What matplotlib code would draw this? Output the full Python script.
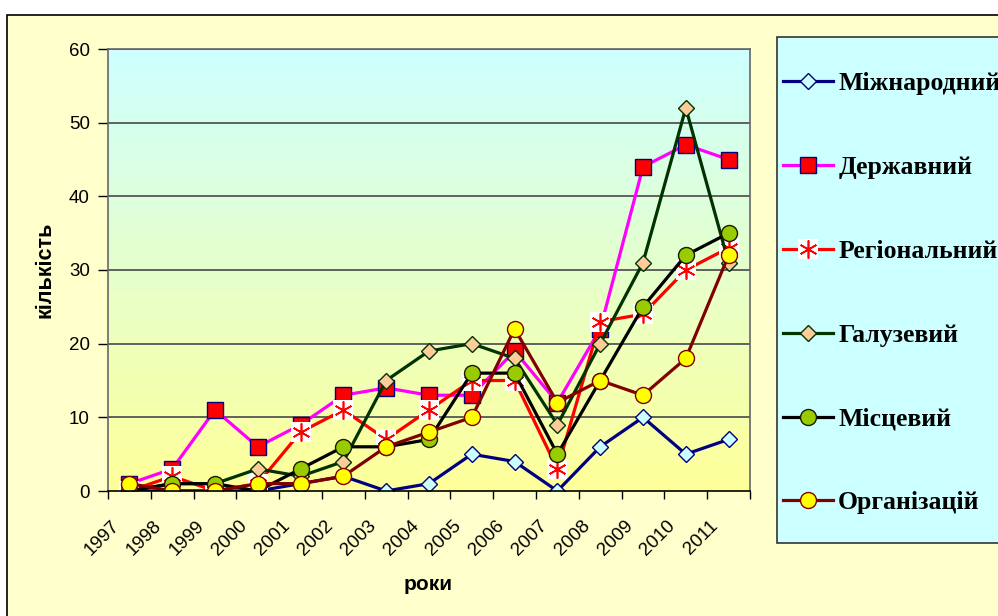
import numpy as np
import matplotlib.pyplot as plt
from matplotlib.patches import Rectangle
from matplotlib.colors import LinearSegmentedColormap
from matplotlib.legend_handler import HandlerTuple
from matplotlib.transforms import ScaledTranslation

years = ['1997', '1998', '1999', '2000', '2001', '2002', '2003', '2004',
         '2005', '2006', '2007', '2008', '2009', '2010', '2011']

mizhnarodnyi = [0, 0, 0, 0, 1, 2, 0, 1, 5, 4, 0, 6, 10, 5, 7]
derzhavnyi = [1, 3, 11, 6, 9, 13, 14, 13, 13, 19, 12, 22, 44, 47, 45]
regionalnyi = [0, 2, 0, 1, 8, 11, 7, 11, 15, 15, 3, 23, 24, 30, 33]
galuzevyi = [0, 1, 1, 3, 2, 4, 15, 19, 20, 18, 9, 20, 31, 52, 31]
mistsevyi = [0, 1, 1, 0, 3, 6, 6, 7, 16, 16, 5, 15, 25, 32, 35]
organizatsii = [1, 0, 0, 1, 1, 2, 6, 8, 10, 22, 12, 15, 13, 18, 32]

labels = ['Міжнародний', 'Державний', 'Регіональний', 'Галузевий', 'Місцевий', 'Організацій']

plt.rcParams['font.family'] = ['Liberation Sans', 'DejaVu Sans']

fig = plt.figure(figsize=(9.98, 6.16), dpi=100, facecolor='white')
# рамка діаграми
fig.patches.append(Rectangle((7 / 998, -0.1), 1.2, (616 - 15) / 616 + 0.1,
                             transform=fig.transFigure, facecolor='#FFFFCC',
                             edgecolor='black', linewidth=1.2, zorder=-10))
# рамка легенди
fig.patches.append(Rectangle((777 / 998, 1 - 543 / 616), 0.5, (543 - 37) / 616,
                             transform=fig.transFigure, facecolor='#CCFFFF',
                             edgecolor='#333333', linewidth=1.2, zorder=-5))

ax = fig.add_axes([108 / 998, 1 - 491 / 616, (750 - 108) / 998, (491 - 49) / 616])
ax.set_xlim(-0.5, 14.5)
ax.set_ylim(0, 60)

# градієнтний фон
cmap = LinearSegmentedColormap.from_list('bg', ['#FFFF99', '#CCFFFF'])
grad = np.linspace(0, 1, 256).reshape(-1, 1)
ax.imshow(grad, cmap=cmap, aspect='auto', extent=[-0.5, 14.5, 0, 60],
          origin='lower', zorder=0)

for y in range(10, 61, 10):
    ax.axhline(y, color='#555555', lw=1.3, zorder=1)

x = np.arange(len(years))
lw = 2.3

l1, = ax.plot(x, mizhnarodnyi, color='#000080', lw=lw, marker='D', ms=8.2,
              mfc='#CCFFFF', mec='#000080', mew=1, zorder=3)
l2, = ax.plot(x, derzhavnyi, color='#FF00FF', lw=lw, marker='s', ms=11,
              mfc='#FF0000', mec='#000080', mew=1, zorder=3)
l3a, = ax.plot(x, regionalnyi, color='#FF0000', lw=lw, marker='s', ms=14,
               mfc='white', mec='white', mew=0, zorder=3)
l3b, = ax.plot(x, regionalnyi, color='#FF0000', lw=0, marker=(6, 2, 0), ms=13,
               mec='#FF0000', mew=1.2, zorder=3)
l4, = ax.plot(x, galuzevyi, color='#003300', lw=lw, marker='D', ms=8.2,
              mfc='#FFCC99', mec='#003300', mew=1, zorder=3)
l5, = ax.plot(x, mistsevyi, color='black', lw=lw, marker='o', ms=11.5,
              mfc='#99CC00', mec='#1A1A00', mew=1, zorder=3)
l6, = ax.plot(x, organizatsii, color='#800000', lw=lw, marker='o', ms=11.5,
              mfc='#FFFF00', mec='#800000', mew=1, zorder=3)

ax.set_yticks(range(0, 61, 10))
ax.set_xticks(x)
ax.set_xticklabels(years, rotation=45, ha='right', va='top', rotation_mode='anchor')
ax.set_xticks(np.arange(-0.5, 14.6, 1), minor=True)
ax.tick_params(axis='x', which='major', length=0, pad=8, labelsize=13.5)
ax.tick_params(axis='x', which='minor', length=6, width=1, direction='out', color='black')
ax.tick_params(axis='y', length=7, width=1, direction='out', labelsize=13.5, pad=6)

# зсув підписів років вліво-вниз
shift = ScaledTranslation(-19 / 100, -15 / 100, fig.dpi_scale_trans)
for lab in ax.get_xticklabels():
    lab.set_transform(lab.get_transform() + shift)

for s in ['left', 'right', 'top']:
    ax.spines[s].set_color('#666666')
    ax.spines[s].set_linewidth(1.2)
ax.spines['bottom'].set_color('black')
ax.spines['bottom'].set_linewidth(1.2)
ax.spines['bottom'].set_zorder(4)

fig.text(45 / 998, 1 - 270 / 616, 'кількість', rotation=90, ha='center', va='center',
         fontsize=15.5, fontweight='bold')
fig.text(428 / 998, 1 - 585 / 616, 'роки', ha='center', va='center',
         fontsize=15, fontweight='bold')

leg = fig.legend([l1, l2, (l3a, l3b), l4, l5, l6], labels,
                 handler_map={tuple: HandlerTuple(ndivide=1)},
                 loc='upper left', bbox_to_anchor=(783 / 998, 1 - 72 / 616),
                 frameon=False,
                 prop={'family': 'Liberation Serif', 'weight': 'bold', 'size': 18.5},
                 labelspacing=2.37, handlelength=1.95, handletextpad=0.2,
                 borderpad=0, borderaxespad=0)

fig.savefig('out.png', dpi=100, facecolor=fig.get_facecolor())
